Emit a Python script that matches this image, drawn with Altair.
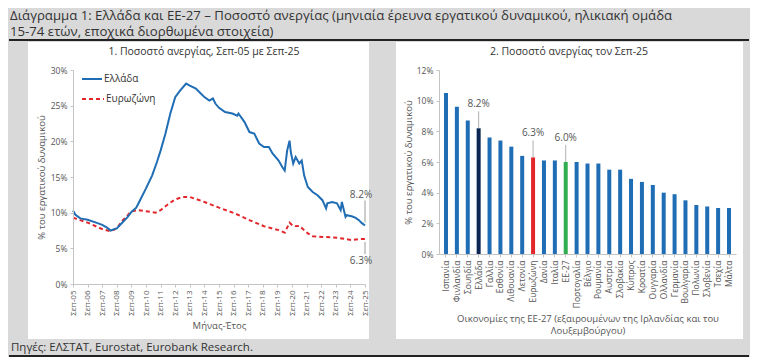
import altair as alt
import pandas as pd

# ---------------- data ----------------
gr_dates = ["2005-09","2005-11","2006-03","2006-09","2007-04","2007-09","2008-01","2008-04","2008-07","2008-09",
            "2009-02","2009-06","2009-09","2010-01","2010-04","2010-09","2011-02","2011-06","2011-09","2012-01",
            "2012-05","2012-09","2013-01","2013-06","2013-09","2014-02","2014-06","2014-09","2015-01","2015-04",
            "2015-06","2015-09","2016-02","2016-08","2016-12","2017-01","2017-06","2017-10","2018-02","2018-06",
            "2018-10","2019-02","2019-05","2019-10","2020-01","2020-03","2020-05","2020-07","2020-08","2020-10",
            "2020-12","2021-03","2021-05","2021-07","2021-10","2022-02","2022-06","2022-10","2023-01","2023-02",
            "2023-06","2023-10","2024-01","2024-02","2024-05","2024-06","2024-10","2025-01","2025-04","2025-06",
            "2025-09"]
gr_values = [10.3, 9.7, 9.2, 9.0, 8.6, 8.3, 7.9, 7.5, 7.7, 7.8,
             8.7, 9.4, 10.1, 10.7, 11.7, 13.4, 15.2, 17.1, 18.7, 21.1,
             23.9, 26.2, 27.1, 28.1, 27.8, 27.4, 26.7, 26.2, 25.7, 26.0,
             25.3, 24.7, 24.1, 23.9, 23.6, 23.9, 22.7, 21.3, 21.1, 19.7,
             19.2, 19.2, 18.3, 17.3, 16.4, 15.9, 18.7, 20.1, 18.5, 16.9,
             17.8, 16.9, 17.3, 15.2, 13.6, 12.9, 12.45, 11.75, 10.6, 11.3,
             11.5, 11.3, 10.35, 11.5, 9.4, 9.65, 9.5, 9.3, 8.95, 8.6,
             8.2]

ez_dates = ["2005-09","2006-09","2007-09","2008-04","2008-09","2009-02","2009-06","2009-09","2010-02","2010-09",
            "2011-05","2011-09","2012-04","2012-09","2013-03","2013-09","2014-05","2014-09","2015-09","2016-10",
            "2017-10","2018-10","2019-10","2020-03","2020-07","2020-10","2021-03","2021-10","2022-02","2022-10",
            "2023-10","2024-10","2025-04","2025-09"]
ez_values = [9.3, 8.6, 7.7, 7.4, 7.8, 8.95, 9.65, 10.2, 10.35, 10.2,
             10.0, 10.35, 11.3, 11.85, 12.2, 12.2, 11.75, 11.5, 10.7, 9.9,
             8.95, 8.1, 7.55, 7.2, 8.6, 8.1, 8.15, 7.1, 6.7, 6.6,
             6.5, 6.15, 6.3, 6.3]

countries = ["Ισπανία","Φινλανδία","Σουηδία","Ελλάδα","Γαλλία","Εσθονία","Λιθουανία","Λετονία","Ευρωζώνη",
             "Δανία","Ιταλία","ΕΕ-27","Πορτογαλία","Βέλγιο","Ρουμανία","Αυστρία","Σλοβακία","Κύπρος","Κροατία",
             "Ουγγαρία","Ολλανδία","Γερμανία","Βουλγαρία","Πολωνία","Σλοβενία","Τσεχία","Μάλτα"]
rates = [10.5, 9.6, 8.7, 8.2, 7.6, 7.4, 7.0, 6.4, 6.3,
         6.1, 6.1, 6.0, 6.0, 5.9, 5.9, 5.5, 5.5, 4.9, 4.7,
         4.5, 4.0, 3.9, 3.5, 3.2, 3.1, 3.0, 3.0]
highlighted = ["Ελλάδα", "Ευρωζώνη", "ΕΕ-27"]

year_ticks = list(range(0, 241, 12))  # every September
left_y_ticks = [0, 5, 10, 15, 20, 25, 30]
right_y_ticks = [0, 2, 4, 6, 8, 10, 12]

title_line1 = "Διάγραμμα 1: Ελλάδα και ΕΕ-27 – Ποσοστό ανεργίας (μηνιαία έρευνα εργατικού δυναμικού, ηλικιακή ομάδα"
title_line2 = "15-74 ετών, εποχικά διορθωμένα στοιχεία)"
source_text = "Πηγές: ΕΛΣΤΑΤ, Eurostat, Eurobank Research."

# ---------------- styling ----------------
FONT = "Open Sans"
BLUE = "#1f6db4"
RED = "#e3262b"
NAVY = "#0c2654"
GREEN = "#2fae4f"
GREY_TXT = "#555555"
BG = "#d9d9d9"

def month_index(d):
    y, m = d.split("-")
    return (int(y) - 2005) * 12 + int(m) - 9

gr_df = pd.DataFrame({"m": [month_index(d) for d in gr_dates], "v": gr_values})
ez_df = pd.DataFrame({"m": [month_index(d) for d in ez_dates], "v": ez_values})
bar_df = pd.DataFrame({"country": countries, "rate": rates})
bar_colors = [NAVY if c == "Ελλάδα" else RED if c == "Ευρωζώνη" else GREEN if c == "ΕΕ-27" else BLUE
              for c in countries]

one = pd.DataFrame({"k": [0]})

LW, LH = 292, 214
RW, RH = 297, 184

xs = alt.Scale(domain=[0, 240], nice=False, zero=False)
ys = alt.Scale(domain=[0, 30], nice=False)

x_axis_l = alt.Axis(values=year_ticks, tickCount=len(year_ticks), labelAngle=270, zindex=1,
                    labelOverlap=False, labelFontSize=8,
                    labelExpr="'Σεπ-' + ((datum.value/12+5) < 10 ? '0' : '') + (datum.value/12+5)",
                    title="Μήνας-Έτος", titlePadding=5)
y_axis_l = alt.Axis(values=left_y_ticks, tickCount=len(left_y_ticks), labelOverlap=False,
                    labelExpr="datum.value + '%'", zindex=1,
                    title="% του εργατικού δυναμικού", titlePadding=4)

# decorative frame (pixels relative to left plot origin)
spacer = alt.Chart(one).mark_rule(opacity=0).encode(
    x=alt.value(-64), x2=alt.value(676), y=alt.value(-62))
top_rule = alt.Chart(one).mark_rule(color="#222222", strokeWidth=2).encode(
    x=alt.value(-64), x2=alt.value(676), y=alt.value(-30))
bottom_rule = alt.Chart(one).mark_rule(color="#222222", strokeWidth=2).encode(
    x=alt.value(-64), x2=alt.value(676), y=alt.value(286))
title_a = alt.Chart(one).mark_text(align="left", baseline="middle", fontSize=13.2, font=FONT,
                                   color="#333333").encode(
    x=alt.value(-63), y=alt.value(-54), text=alt.value(title_line1))
title_b = alt.Chart(one).mark_text(align="left", baseline="middle", fontSize=13.2, font=FONT,
                                   color="#333333").encode(
    x=alt.value(-63), y=alt.value(-38), text=alt.value(title_line2))
source = alt.Chart(one).mark_text(align="left", baseline="middle", fontSize=11.5, font=FONT,
                                  color="#333333").encode(
    x=alt.value(-62), y=alt.value(278), text=alt.value(source_text))
white_l = alt.Chart(one).mark_rect(color="white").encode(
    x=alt.value(-45), x2=alt.value(296), y=alt.value(-28), y2=alt.value(269))
sub_l = alt.Chart(one).mark_text(align="center", baseline="middle", fontSize=10.5, font=FONT,
                                 color="#333333").encode(
    x=alt.value(131), y=alt.value(-18), text=alt.value("1. Ποσοστό ανεργίας, Σεπ-05 με Σεπ-25"))

gr_line = alt.Chart(gr_df).mark_line(color=BLUE, strokeWidth=2).encode(
    x=alt.X("m:Q", scale=xs, axis=x_axis_l), y=alt.Y("v:Q", scale=ys, axis=y_axis_l))
ez_line = alt.Chart(ez_df).mark_line(color=RED, strokeWidth=2, strokeDash=[4, 3]).encode(
    x=alt.X("m:Q", scale=xs, axis=x_axis_l), y=alt.Y("v:Q", scale=ys, axis=y_axis_l))

# legend
leg1 = alt.Chart(one).mark_rule(color=BLUE, strokeWidth=2).encode(
    x=alt.value(9), x2=alt.value(29), y=alt.value(9))
leg1t = alt.Chart(one).mark_text(align="left", baseline="middle", fontSize=10, font=FONT,
                                 color="#333333").encode(x=alt.value(31), y=alt.value(9), text=alt.value("Ελλάδα"))
leg2 = alt.Chart(one).mark_rule(color=RED, strokeWidth=2, strokeDash=[4, 3]).encode(
    x=alt.value(9), x2=alt.value(31), y=alt.value(29))
leg2t = alt.Chart(one).mark_text(align="left", baseline="middle", fontSize=10, font=FONT,
                                 color="#333333").encode(x=alt.value(33), y=alt.value(29), text=alt.value("Ευρωζώνη"))

LBL = "format(datum.v, '.1f') + '%'"
gr_last = alt.Chart(gr_df.tail(1)).transform_calculate(lab=LBL)
ez_last = alt.Chart(ez_df.tail(1)).transform_calculate(lab=LBL)
gr_lab = gr_last.mark_text(fontSize=10, font=FONT, color=GREY_TXT, dx=-4, dy=-31).encode(
    x=alt.X("m:Q", scale=xs, axis=x_axis_l), y=alt.Y("v:Q", scale=ys, axis=y_axis_l), text="lab:N")
gr_lead = gr_last.mark_rule(color="#9a9a9a", strokeWidth=1, yOffset=-3, y2Offset=-25).encode(
    x=alt.X("m:Q", scale=xs, axis=x_axis_l), y=alt.Y("v:Q", scale=ys, axis=y_axis_l), y2="v:Q")
ez_lab = ez_last.mark_text(fontSize=10, font=FONT, color=GREY_TXT, dx=-4, dy=22).encode(
    x=alt.X("m:Q", scale=xs, axis=x_axis_l), y=alt.Y("v:Q", scale=ys, axis=y_axis_l), text="lab:N")
ez_lead = ez_last.mark_rule(color="#9a9a9a", strokeWidth=1, yOffset=3, y2Offset=15).encode(
    x=alt.X("m:Q", scale=xs, axis=x_axis_l), y=alt.Y("v:Q", scale=ys, axis=y_axis_l), y2="v:Q")

left = alt.layer(spacer, top_rule, bottom_rule, title_a, title_b, source, white_l, sub_l,
                 ez_line, gr_line, leg1, leg1t, leg2, leg2t,
                 gr_lead, gr_lab, ez_lead, ez_lab).properties(width=LW, height=LH)

# ---------------- right chart ----------------
bx = alt.Scale(domain=countries, paddingInner=0, paddingOuter=0.143)
by = alt.Scale(domain=[0, 12], nice=False)
x_axis_r = alt.Axis(labelAngle=270, zindex=1, titlePadding=6, labelOverlap=False,
                    title=["Οικονομίες της ΕΕ-27 (εξαιρουμένων της Ιρλανδίας και του", "Λουξεμβούργου)"])
y_axis_r = alt.Axis(values=right_y_ticks, tickCount=len(right_y_ticks), labelOverlap=False,
                    labelExpr="datum.value + '%'", zindex=1,
                    title="% του εργατικού δυναμικού", titlePadding=3)
white_r = alt.Chart(one).mark_rect(color="white").encode(
    x=alt.value(-43), x2=alt.value(304), y=alt.value(-28), y2=alt.value(269))
sub_r = alt.Chart(one).mark_text(align="center", baseline="middle", fontSize=10.5, font=FONT,
                                 color="#333333").encode(
    x=alt.value(130), y=alt.value(-18), text=alt.value("2. Ποσοστό ανεργίας τον Σεπ-25"))
bars = alt.Chart(bar_df).mark_bar(size=4).encode(
    x=alt.X("country:N", sort=countries, scale=bx, axis=x_axis_r),
    y=alt.Y("rate:Q", scale=by, axis=y_axis_r),
    color=alt.Color("country:N", scale=alt.Scale(domain=countries, range=bar_colors), legend=None))
hl = alt.Chart(bar_df[bar_df["country"].isin(highlighted)]).transform_calculate(
    lab="format(datum.rate, '.1f') + '%'")
bar_lab = hl.mark_text(fontSize=10, font=FONT, color=GREY_TXT, baseline="middle", dy=-24).encode(
    x=alt.X("country:N", sort=countries, scale=bx, axis=x_axis_r), y=alt.Y("rate:Q", scale=by, axis=y_axis_r),
    text="lab:N")
bar_lead = hl.mark_rule(color="#b0b0b0", strokeWidth=1, y2Offset=-17).encode(
    x=alt.X("country:N", sort=countries, scale=bx, axis=x_axis_r), y=alt.Y("rate:Q", scale=by, axis=y_axis_r),
    y2="rate:Q")

right = alt.layer(white_r, sub_r, bars, bar_lead, bar_lab).properties(width=RW, height=RH)

chart = alt.hconcat(left, right, spacing=74, bounds="flush").properties(
    background=BG, padding=0
).configure_view(stroke=None).configure_axis(
    grid=False, labelFont=FONT, titleFont=FONT, labelFontSize=8.5, titleFontSize=9.5,
    titleFontWeight="normal", labelColor=GREY_TXT, titleColor=GREY_TXT,
    domainColor="#c4c4c4", tickColor="#c4c4c4", tickSize=3, labelPadding=3
)

chart.save("out.html", embed_options={"renderer": "svg", "actions": False})
